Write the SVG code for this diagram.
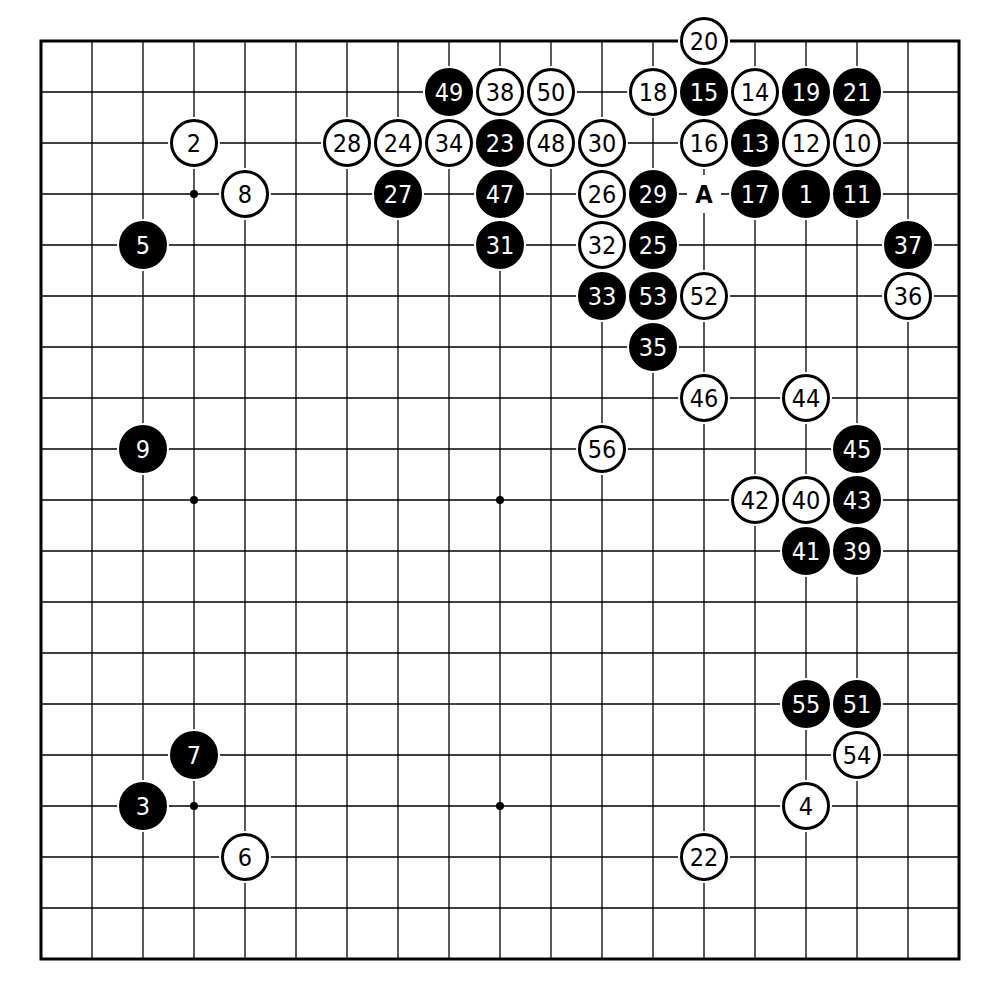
<svg xmlns="http://www.w3.org/2000/svg" width="1000" height="1000" viewBox="0 0 1000 1000">
<style>
.g{stroke:#000;stroke-width:1.3}
.halo{fill:#fff}
.w{fill:#fff;stroke:#000;stroke-width:3}
.b{fill:#000;stroke:#000;stroke-width:3}
text{font-family:"DejaVu Sans Condensed","DejaVu Sans","Liberation Sans",sans-serif;font-stretch:condensed;font-size:25px;text-anchor:middle}
.tw{fill:#000}
.tb{fill:#fff}
</style>
<rect width="1000" height="1000" fill="#fff"/>
<g id="board">
<g class="g">
<line x1="41" y1="92" x2="959" y2="92"/><line x1="41" y1="143" x2="959" y2="143"/><line x1="41" y1="194" x2="959" y2="194"/><line x1="41" y1="245" x2="959" y2="245"/><line x1="41" y1="296" x2="959" y2="296"/><line x1="41" y1="347" x2="959" y2="347"/><line x1="41" y1="398" x2="959" y2="398"/><line x1="41" y1="449" x2="959" y2="449"/><line x1="41" y1="500" x2="959" y2="500"/><line x1="41" y1="551" x2="959" y2="551"/><line x1="41" y1="602" x2="959" y2="602"/><line x1="41" y1="653" x2="959" y2="653"/><line x1="41" y1="704" x2="959" y2="704"/><line x1="41" y1="755" x2="959" y2="755"/><line x1="41" y1="806" x2="959" y2="806"/><line x1="41" y1="857" x2="959" y2="857"/><line x1="41" y1="908" x2="959" y2="908"/>
<line x1="92" y1="41" x2="92" y2="959"/><line x1="143" y1="41" x2="143" y2="959"/><line x1="194" y1="41" x2="194" y2="959"/><line x1="245" y1="41" x2="245" y2="959"/><line x1="296" y1="41" x2="296" y2="959"/><line x1="347" y1="41" x2="347" y2="959"/><line x1="398" y1="41" x2="398" y2="959"/><line x1="449" y1="41" x2="449" y2="959"/><line x1="500" y1="41" x2="500" y2="959"/><line x1="551" y1="41" x2="551" y2="959"/><line x1="602" y1="41" x2="602" y2="959"/><line x1="653" y1="41" x2="653" y2="959"/><line x1="704" y1="41" x2="704" y2="959"/><line x1="755" y1="41" x2="755" y2="959"/><line x1="806" y1="41" x2="806" y2="959"/><line x1="857" y1="41" x2="857" y2="959"/><line x1="908" y1="41" x2="908" y2="959"/>
</g>
<rect x="41" y="41" width="918" height="918" fill="none" stroke="#000" stroke-width="3"/>
<g fill="#000">
<circle cx="194" cy="194" r="4"/><circle cx="194" cy="500" r="4"/><circle cx="500" cy="500" r="4"/><circle cx="194" cy="806" r="4"/><circle cx="500" cy="806" r="4"/>
</g>
</g>
<defs>
<g id="hw"><circle r="26" class="halo"/><circle r="22.5" class="w"/></g>
<g id="hb"><circle r="26" class="halo"/><circle r="22.5" class="b"/></g>
</defs>
<g id="stones">
<g id="s1"><use href="#hb" x="806" y="194"/><text x="806" y="203" class="tb">1</text></g>
<g id="s2"><use href="#hw" x="194" y="143"/><text x="194" y="152" class="tw">2</text></g>
<g id="s3"><use href="#hb" x="143" y="806"/><text x="143" y="815" class="tb">3</text></g>
<g id="s4"><use href="#hw" x="806" y="806"/><text x="806" y="815" class="tw">4</text></g>
<g id="s5"><use href="#hb" x="143" y="245"/><text x="143" y="254" class="tb">5</text></g>
<g id="s6"><use href="#hw" x="245" y="857"/><text x="245" y="866" class="tw">6</text></g>
<g id="s7"><use href="#hb" x="194" y="755"/><text x="194" y="764" class="tb">7</text></g>
<g id="s8"><use href="#hw" x="245" y="194"/><text x="245" y="203" class="tw">8</text></g>
<g id="s9"><use href="#hb" x="143" y="449"/><text x="143" y="458" class="tb">9</text></g>
<g id="s10"><use href="#hw" x="857" y="143"/><text x="857" y="152" class="tw">10</text></g>
<g id="s11"><use href="#hb" x="857" y="194"/><text x="857" y="203" class="tb">11</text></g>
<g id="s12"><use href="#hw" x="806" y="143"/><text x="806" y="152" class="tw">12</text></g>
<g id="s13"><use href="#hb" x="755" y="143"/><text x="755" y="152" class="tb">13</text></g>
<g id="s14"><use href="#hw" x="755" y="92"/><text x="755" y="101" class="tw">14</text></g>
<g id="s15"><use href="#hb" x="704" y="92"/><text x="704" y="101" class="tb">15</text></g>
<g id="s16"><use href="#hw" x="704" y="143"/><text x="704" y="152" class="tw">16</text></g>
<g id="s17"><use href="#hb" x="755" y="194"/><text x="755" y="203" class="tb">17</text></g>
<g id="s18"><use href="#hw" x="653" y="92"/><text x="653" y="101" class="tw">18</text></g>
<g id="s19"><use href="#hb" x="806" y="92"/><text x="806" y="101" class="tb">19</text></g>
<g id="s20"><use href="#hw" x="704" y="41"/><text x="704" y="50" class="tw">20</text></g>
<g id="s21"><use href="#hb" x="857" y="92"/><text x="857" y="101" class="tb">21</text></g>
<g id="s22"><use href="#hw" x="704" y="857"/><text x="704" y="866" class="tw">22</text></g>
<g id="s23"><use href="#hb" x="500" y="143"/><text x="500" y="152" class="tb">23</text></g>
<g id="s24"><use href="#hw" x="398" y="143"/><text x="398" y="152" class="tw">24</text></g>
<g id="s25"><use href="#hb" x="653" y="245"/><text x="653" y="254" class="tb">25</text></g>
<g id="s26"><use href="#hw" x="602" y="194"/><text x="602" y="203" class="tw">26</text></g>
<g id="s27"><use href="#hb" x="398" y="194"/><text x="398" y="203" class="tb">27</text></g>
<g id="s28"><use href="#hw" x="347" y="143"/><text x="347" y="152" class="tw">28</text></g>
<g id="s29"><use href="#hb" x="653" y="194"/><text x="653" y="203" class="tb">29</text></g>
<g id="s30"><use href="#hw" x="602" y="143"/><text x="602" y="152" class="tw">30</text></g>
<g id="s31"><use href="#hb" x="500" y="245"/><text x="500" y="254" class="tb">31</text></g>
<g id="s32"><use href="#hw" x="602" y="245"/><text x="602" y="254" class="tw">32</text></g>
<g id="s33"><use href="#hb" x="602" y="296"/><text x="602" y="305" class="tb">33</text></g>
<g id="s34"><use href="#hw" x="449" y="143"/><text x="449" y="152" class="tw">34</text></g>
<g id="s35"><use href="#hb" x="653" y="347"/><text x="653" y="356" class="tb">35</text></g>
<g id="s36"><use href="#hw" x="908" y="296"/><text x="908" y="305" class="tw">36</text></g>
<g id="s37"><use href="#hb" x="908" y="245"/><text x="908" y="254" class="tb">37</text></g>
<g id="s38"><use href="#hw" x="500" y="92"/><text x="500" y="101" class="tw">38</text></g>
<g id="s39"><use href="#hb" x="857" y="551"/><text x="857" y="560" class="tb">39</text></g>
<g id="s40"><use href="#hw" x="806" y="500"/><text x="806" y="509" class="tw">40</text></g>
<g id="s41"><use href="#hb" x="806" y="551"/><text x="806" y="560" class="tb">41</text></g>
<g id="s42"><use href="#hw" x="755" y="500"/><text x="755" y="509" class="tw">42</text></g>
<g id="s43"><use href="#hb" x="857" y="500"/><text x="857" y="509" class="tb">43</text></g>
<g id="s44"><use href="#hw" x="806" y="398"/><text x="806" y="407" class="tw">44</text></g>
<g id="s45"><use href="#hb" x="857" y="449"/><text x="857" y="458" class="tb">45</text></g>
<g id="s46"><use href="#hw" x="704" y="398"/><text x="704" y="407" class="tw">46</text></g>
<g id="s47"><use href="#hb" x="500" y="194"/><text x="500" y="203" class="tb">47</text></g>
<g id="s48"><use href="#hw" x="551" y="143"/><text x="551" y="152" class="tw">48</text></g>
<g id="s49"><use href="#hb" x="449" y="92"/><text x="449" y="101" class="tb">49</text></g>
<g id="s50"><use href="#hw" x="551" y="92"/><text x="551" y="101" class="tw">50</text></g>
<g id="s51"><use href="#hb" x="857" y="704"/><text x="857" y="713" class="tb">51</text></g>
<g id="s52"><use href="#hw" x="704" y="296"/><text x="704" y="305" class="tw">52</text></g>
<g id="s53"><use href="#hb" x="653" y="296"/><text x="653" y="305" class="tb">53</text></g>
<g id="s54"><use href="#hw" x="857" y="755"/><text x="857" y="764" class="tw">54</text></g>
<g id="s55"><use href="#hb" x="806" y="704"/><text x="806" y="713" class="tb">55</text></g>
<g id="s56"><use href="#hw" x="602" y="449"/><text x="602" y="458" class="tw">56</text></g>
<g id="markA"><rect x="687" y="175" width="34" height="38" fill="#fff"/><text x="704" y="203" class="tw" font-weight="bold" style="font-size:25px">A</text></g>
</g>
</svg>
